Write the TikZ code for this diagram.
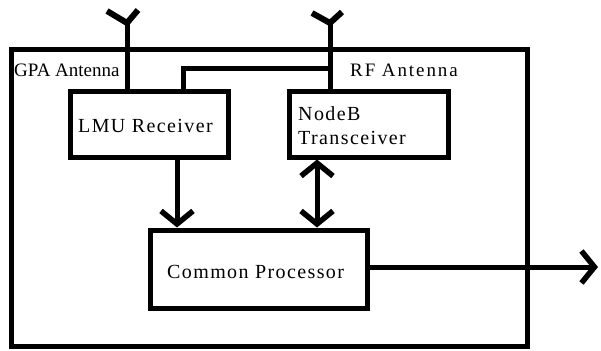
\documentclass[tikz,border=0pt]{standalone}
\usepackage{fontspec}
\setmainfont{Liberation Serif}
\newfontfamily\lblA[LetterSpace=7]{Liberation Serif}
\newfontfamily\lblB[LetterSpace=10]{Liberation Serif}
\usetikzlibrary{arrows.meta}
\begin{document}
\begin{tikzpicture}[x=1pt,y=-1pt,
  wire/.style={line width=5pt},
  blk/.style={draw,line width=5pt,minimum width=#1,inner sep=0pt,anchor=center},
  lbl/.style={inner sep=0pt,anchor=base west,font=\fontsize{20}{22}\lblA},
  tip/.tip={Straight Barb[length=13pt,width=32pt,line width=5.5pt]},
  arr/.style={line width=5pt,-tip},
  darr/.style={line width=5pt,tip-tip}]
\useasboundingbox (0,0) rectangle (601,350);
% outer frame
\node[blk=516pt,minimum height=296pt] (outer) at (269,198) {};
% blocks
\node[blk=158pt,minimum height=65pt] (lmu) at (149,124.5) {};
\node[blk=159pt,minimum height=65pt] (nodeb) at (368.5,124.5) {};
\node[blk=217pt,minimum height=78pt] (cp) at (258.5,269) {};
% labels
\node[lbl,font=\fontsize{19}{21}\selectfont] (gpa) at (14,77) {GPA Antenna};
\node[lbl,font=\fontsize{19}{21}\lblB] (rf) at (350,77) {RF Antenna};
\node[lbl] (lmut) at (78,132) {LMU Receiver};
\node[lbl] (nbt1) at (298,120) {NodeB};
\node[lbl] (nbt2) at (298,144) {Transceiver};
\node[lbl] (cpt) at (167,278) {Common Processor};
% antennas
\coordinate (ga) at (127,23);
\coordinate (gl) at (107,11);
\coordinate (gr) at (138,10);
\coordinate (ra) at (330,23);
\coordinate (rl) at (312,13);
\coordinate (rr) at (342,12);
\draw[line width=6pt,line join=miter] (gl) -- (ga) -- (gr);
\draw[wire] (ga) -- (ga |- lmu.north);
\draw[line width=6pt,line join=miter] (rl) -- (ra) -- (rr);
\draw[wire] (ra) -- (ra |- nodeb.north);
% link from LMU to RF antenna line
\coordinate (lk) at (183,69);
\draw[wire,line join=miter] (lk |- lmu.north) -- (lk) -- (lk -| ra);
% arrows
\coordinate (a1) at (177,0);
\coordinate (a2) at (317,0);
\draw[arr] (a1 |- lmu.south) -- (a1 |- cp.north);
\draw[darr] (a2 |- nodeb.south) -- (a2 |- cp.north);
\coordinate (out) at (598,267);
\draw[arr] (cp.east |- out) -- (out);
\end{tikzpicture}
\end{document}
